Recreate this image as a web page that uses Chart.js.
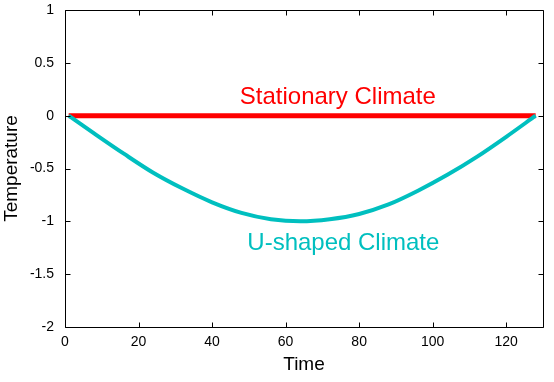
<!DOCTYPE html>
<html>
<head>
<meta charset="utf-8">
<script src="https://cdn.jsdelivr.net/npm/chart.js@4/dist/chart.umd.min.js"></script>
<style>
html,body{margin:0;padding:0;background:#fff;}
#wrap{width:554px;height:382px;position:relative;}
</style>
</head>
<body>
<div id="wrap"><canvas id="c" width="554" height="382"></canvas></div>
<script>
const timeU = [1, 8, 16, 24, 32, 40, 48, 56, 64, 72, 80, 88, 96, 104, 112, 120, 128];
const uShaped = [0, -0.17, -0.36, -0.54, -0.69, -0.82, -0.92, -0.98, -1.0, -0.98, -0.93, -0.84, -0.71, -0.56, -0.39, -0.20, 0];
const timeS = [1, 128];
const stationary = [0, 0];
const xTicks = [0, 20, 40, 60, 80, 100, 120];
const yTicks = [-2, -1.5, -1, -0.5, 0, 0.5, 1];
const labelStationary = {text: 'Stationary Climate', x: 74.2, y: 0.109};
const labelU = {text: 'U-shaped Climate', x: 75.7, y: -1.272};

const FONT = '"Liberation Sans", Arial, sans-serif';

const boxPlugin = {
  id: 'boxPlugin',
  afterDatasetsDraw(chart) {
    const {ctx, chartArea: a, scales} = chart;
    ctx.save();
    ctx.strokeStyle = '#000';
    ctx.lineWidth = 1;
    ctx.beginPath();
    const L = Math.round(a.left) + 0.5, R = Math.round(a.right) + 0.5;
    const T = Math.round(a.top) + 0.5, B = Math.round(a.bottom) + 0.5;
    ctx.rect(L, T, R - L, B - T);
    const tl = 5;
    scales.x.ticks.forEach(t => {
      const px = Math.round(scales.x.getPixelForValue(t.value)) + 0.5;
      ctx.moveTo(px, B); ctx.lineTo(px, B - tl);
      ctx.moveTo(px, T); ctx.lineTo(px, T + tl);
    });
    scales.y.ticks.forEach(t => {
      const py = Math.round(scales.y.getPixelForValue(t.value)) + 0.5;
      ctx.moveTo(L, py); ctx.lineTo(L + tl, py);
      ctx.moveTo(R, py); ctx.lineTo(R - tl, py);
    });
    ctx.stroke();
    ctx.font = '24px ' + FONT;
    ctx.textAlign = 'center';
    ctx.textBaseline = 'alphabetic';
    ctx.fillStyle = '#ff0000';
    ctx.fillText(labelStationary.text, scales.x.getPixelForValue(labelStationary.x), scales.y.getPixelForValue(labelStationary.y));
    ctx.fillStyle = '#00bfbf';
    ctx.fillText(labelU.text, scales.x.getPixelForValue(labelU.x), scales.y.getPixelForValue(labelU.y));
    ctx.restore();
  }
};

new Chart(document.getElementById('c'), {
  type: 'line',
  data: {
    datasets: [
      {
        data: timeU.map((t, i) => ({x: t, y: uShaped[i]})),
        borderColor: '#00bfbf',
        borderWidth: 4,
        pointRadius: 0,
        cubicInterpolationMode: 'monotone',
        fill: false
      },
      {
        data: timeS.map((t, i) => ({x: t, y: stationary[i]})),
        borderColor: '#ff0000',
        borderWidth: 5,
        pointRadius: 0,
        fill: false
      }
    ]
  },
  options: {
    responsive: false,
    animation: false,
    devicePixelRatio: 1,
    layout: {padding: {left: 0, right: 0, top: 0, bottom: 0}},
    plugins: {legend: {display: false}, tooltip: {enabled: false}},
    scales: {
      x: {
        type: 'linear',
        min: 0, max: 130,
        afterBuildTicks: s => { s.ticks = xTicks.map(v => ({value: v})); },
        afterFit: s => { s.height = 55; s.paddingLeft = 0; s.paddingRight = 11; },
        grid: {display: false, drawTicks: false},
        border: {display: false},
        ticks: {color: '#000', font: {family: FONT, size: 14}, padding: 7, maxRotation: 0, callback: v => String(v)},
        title: {display: true, text: 'Time', color: '#000', font: {family: FONT, size: 19}, padding: {top: 1, bottom: 6}}
      },
      y: {
        type: 'linear',
        min: -2, max: 1,
        afterBuildTicks: s => { s.ticks = yTicks.map(v => ({value: v})); },
        afterFit: s => { s.width = 65; s.paddingTop = 10; s.paddingBottom = 0; },
        grid: {display: false, drawTicks: false},
        border: {display: false},
        ticks: {color: '#000', font: {family: FONT, size: 14}, padding: 11, callback: v => String(v)},
        title: {display: true, text: 'Temperature', color: '#000', font: {family: FONT, size: 19}, padding: {top: 0, bottom: 0}}
      }
    }
  },
  plugins: [boxPlugin]
});
</script>
</body>
</html>
